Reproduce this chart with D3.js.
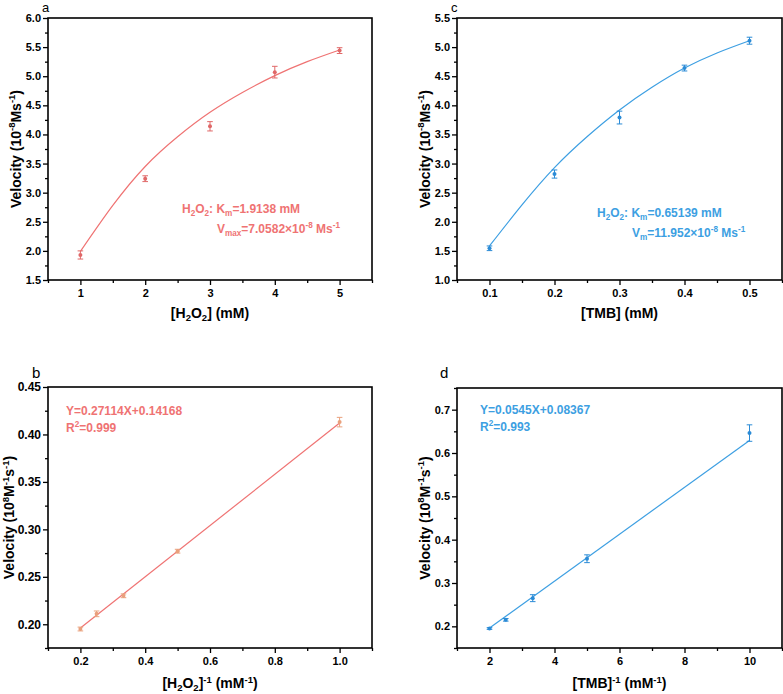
<!DOCTYPE html>
<html><head><meta charset="utf-8">
<script src="https://cdn.jsdelivr.net/npm/d3@7"></script>
<style>
html,body{margin:0;padding:0;background:#fff;}
svg{display:block;font-family:"Liberation Sans",Arial,sans-serif;}
</style></head>
<body><svg id="chart" width="783" height="694"></svg>
<script>
// ---------- DATA ----------
// Panel a: Michaelis-Menten, H2O2
const aX = [1, 2, 3, 4, 5];
const aY = [1.93, 3.24, 4.14, 5.07, 5.44];
const aErr = [0.07, 0.05, 0.08, 0.10, 0.05];
const aFitX = [1, 1.5, 2, 2.5, 3, 3.5, 4, 4.5, 5];
const aFitY = [1.99, 2.78, 3.45, 3.96, 4.38, 4.72, 5.01, 5.25, 5.45];
const aXTicks = [1, 2, 3, 4, 5];
const aYTicks = [1.5, 2.0, 2.5, 3.0, 3.5, 4.0, 4.5, 5.0, 5.5, 6.0];

// Panel c: Michaelis-Menten, TMB
const cX = [0.1, 0.2, 0.3, 0.4, 0.5];
const cY = [1.545, 2.82, 3.79, 4.64, 5.11];
const cErr = [0.04, 0.07, 0.11, 0.05, 0.06];
const cFitX = [0.1, 0.15, 0.2, 0.25, 0.3, 0.35, 0.4, 0.45, 0.5];
const cFitY = [1.585, 2.29, 2.93, 3.46, 3.92, 4.31, 4.64, 4.90, 5.11];
const cXTicks = [0.1, 0.2, 0.3, 0.4, 0.5];
const cYTicks = [1.0, 1.5, 2.0, 2.5, 3.0, 3.5, 4.0, 4.5, 5.0, 5.5];

// Panel b: Lineweaver-Burk, H2O2
const bX = [0.2, 0.25, 0.333, 0.5, 1.0];
const bY = [0.195, 0.211, 0.230, 0.277, 0.413];
const bErr = [0.002, 0.003, 0.002, 0.002, 0.005];
const bFitX = [0.2, 1.0];
const bFitY = [0.196, 0.412];
const bXTicks = [0.2, 0.4, 0.6, 0.8, 1.0];
const bYTicks = [0.20, 0.25, 0.30, 0.35, 0.40, 0.45];

// Panel d: Lineweaver-Burk, TMB
const dX = [2, 2.5, 3.33, 5, 10];
const dY = [0.195, 0.215, 0.265, 0.356, 0.646];
const dErr = [0.002, 0.003, 0.008, 0.009, 0.019];
const dFitX = [2, 10];
const dFitY = [0.196, 0.629];
const dXTicks = [2, 4, 6, 8, 10];
const dYTicks = [0.2, 0.3, 0.4, 0.5, 0.6, 0.7];

// ---------- DRAW ----------
const svg = d3.select("#chart");
const RED = "#ef7373", RED_MK = "#e06868", ORANGE_MK = "#e9a07c";
const BLUE = "#3d9fe2", BLUE_MK = "#2b8bd6";

function richText(g, x, y, parts, opts) {
  const t = g.append("text").attr("x", x).attr("y", y)
    .attr("font-size", opts.size).attr("font-weight", opts.weight || "bold")
    .attr("fill", opts.fill || "#000");
  if (opts.anchor) t.attr("text-anchor", opts.anchor);
  if (opts.transform) t.attr("transform", opts.transform);
  let shift = 0;
  parts.forEach(p => {
    let target = 0;
    if (p.sup) target = -opts.size * 0.38;
    if (p.sub) target = opts.size * 0.22;
    const s = t.append("tspan").text(p.t);
    s.attr("dy", target - shift);
    shift = target;
    if (p.sup || p.sub) s.attr("font-size", opts.size * 0.68);
  });
  return t;
}

function minorBetween(ticks, lo, hi) {
  const step = (ticks[1] - ticks[0]) / 2;
  const out = [];
  for (let i = -1; i < ticks.length; i++) {
    const v = ticks[0] + step * (2 * i + 1);
    if (v >= lo - 1e-9 && v <= hi + 1e-9) out.push(v);
  }
  return out;
}

function panel(cfg) {
  const g = svg.append("g").attr("transform", `translate(${cfg.left},${cfg.top})`);
  const x = d3.scaleLinear().domain(cfg.xDom).range([0, cfg.w]);
  const y = d3.scaleLinear().domain(cfg.yDom).range([cfg.h, 0]);

  const xa = g.append("g").attr("transform", `translate(0,${cfg.h})`)
    .call(d3.axisBottom(x).tickValues(cfg.xTicks).tickSize(5).tickSizeOuter(0).tickPadding(4).tickFormat(cfg.xFmt));
  const xm = g.append("g").attr("transform", `translate(0,${cfg.h})`)
    .call(d3.axisBottom(x).tickValues(minorBetween(cfg.xTicks, cfg.xDom[0], cfg.xDom[1])).tickSize(3).tickSizeOuter(0).tickFormat(""));
  const ya = g.append("g")
    .call(d3.axisLeft(y).tickValues(cfg.yTicks).tickSize(5).tickSizeOuter(0).tickPadding(2).tickFormat(cfg.yFmt));
  const ym = g.append("g")
    .call(d3.axisLeft(y).tickValues(minorBetween(cfg.yTicks, cfg.yDom[0], cfg.yDom[1])).tickSize(3).tickSizeOuter(0).tickFormat(""));
  [xa, xm, ya, ym].forEach(a => {
    a.select(".domain").remove();
    a.selectAll("line").attr("stroke", "#000").attr("stroke-width", 1.3);
    a.selectAll("text").attr("font-size", 11).attr("font-weight", "bold").attr("fill", "#000")
      .attr("font-family", '"Liberation Sans",Arial,sans-serif');
  });
  if (cfg.yLabelSize) ya.selectAll("text").attr("font-size", cfg.yLabelSize);

  g.append("rect").attr("x", 0).attr("y", 0).attr("width", cfg.w).attr("height", cfg.h)
    .attr("fill", "none").attr("stroke", "#000").attr("stroke-width", 1.6);

  const fit = cfg.fitX.map((v, i) => [v, cfg.fitY[i]]);
  g.append("path").datum(fit)
    .attr("d", d3.line().x(d => x(d[0])).y(d => y(d[1])).curve(d3.curveNatural))
    .attr("fill", "none").attr("stroke", cfg.lineColor).attr("stroke-width", 1.2);

  const pts = cfg.px.map((v, i) => ({x: v, y: cfg.py[i], e: cfg.pe[i]}));
  const eb = g.append("g").attr("stroke", cfg.mkColor).attr("stroke-width", 1);
  pts.forEach(p => {
    const x0 = x(p.x), y1 = y(p.y + p.e), y2 = y(p.y - p.e);
    eb.append("line").attr("x1", x0).attr("x2", x0).attr("y1", y1).attr("y2", y2);
    eb.append("line").attr("x1", x0 - 2.8).attr("x2", x0 + 2.8).attr("y1", y1).attr("y2", y1);
    eb.append("line").attr("x1", x0 - 2.8).attr("x2", x0 + 2.8).attr("y1", y2).attr("y2", y2);
  });
  g.selectAll("circle.pt").data(pts).join("circle").attr("class", "pt")
    .attr("cx", d => x(d.x)).attr("cy", d => y(d.y)).attr("r", 2)
    .attr("fill", cfg.mkColor);

  svg.append("text").attr("x", cfg.letterX).attr("y", cfg.letterY).attr("font-size", cfg.letterSize || 15)
    .attr("fill", "#000").text(cfg.letter);

  richText(svg, cfg.left + cfg.w / 2, cfg.xTitleY, cfg.xTitle, {size: 14, anchor: "middle"});
  const yc = cfg.top + cfg.h / 2;
  richText(svg, 0, 0, cfg.yTitle, {size: 14, anchor: "middle",
    transform: `translate(${cfg.yTitleX},${yc}) rotate(-90)`});

  cfg.notes.forEach(n => richText(svg, n.x, n.y, n.parts, {size: 12, fill: cfg.textColor}));
}

const f1 = d3.format(".1f"), f2 = d3.format(".2f"), f0 = d3.format("d");

const velA = [{t: "Velocity (10"}, {t: "-8", sup: true}, {t: "Ms"}, {t: "-1", sup: true}, {t: ")"}];
const velB = [{t: "Velocity (10"}, {t: "8", sup: true}, {t: "M"}, {t: "-1", sup: true}, {t: "s"}, {t: "-1", sup: true}, {t: ")"}];

panel({
  left: 48, top: 18, w: 324, h: 262, xDom: [0.5, 5.5], yDom: [1.5, 6.0],
  xTicks: aXTicks, yTicks: aYTicks, xFmt: f0, yFmt: f1,
  fitX: aFitX, fitY: aFitY, px: aX, py: aY, pe: aErr,
  lineColor: RED, mkColor: RED_MK, textColor: RED,
  letter: "a", letterX: 42, letterY: 12, letterSize: 13,
  xTitle: [{t: "[H"}, {t: "2", sub: true}, {t: "O"}, {t: "2", sub: true}, {t: "] (mM)"}], xTitleY: 318,
  yTitle: velA, yTitleX: 20.5,
  notes: [
    {x: 182, y: 213, parts: [{t: "H"}, {t: "2", sub: true}, {t: "O"}, {t: "2", sub: true}, {t: ": K"}, {t: "m", sub: true}, {t: "=1.9138 mM"}]},
    {x: 217, y: 233, parts: [{t: "V"}, {t: "max", sub: true}, {t: "=7.0582×10"}, {t: "-8", sup: true}, {t: " Ms"}, {t: "-1", sup: true}]}
  ]
});

panel({
  left: 457, top: 18, w: 325, h: 262, xDom: [0.05, 0.55], yDom: [1.0, 5.5],
  xTicks: cXTicks, yTicks: cYTicks, xFmt: f1, yFmt: f1,
  fitX: cFitX, fitY: cFitY, px: cX, py: cY, pe: cErr,
  lineColor: BLUE, mkColor: BLUE_MK, textColor: BLUE,
  letter: "c", letterX: 451, letterY: 12, letterSize: 13,
  xTitle: [{t: "[TMB] (mM)"}], xTitleY: 318,
  yTitle: velA, yTitleX: 429.5,
  notes: [
    {x: 597, y: 217, parts: [{t: "H"}, {t: "2", sub: true}, {t: "O"}, {t: "2", sub: true}, {t: ": K"}, {t: "m", sub: true}, {t: "=0.65139 mM"}]},
    {x: 632, y: 237, parts: [{t: "V"}, {t: "m", sub: true}, {t: "=11.952×10"}, {t: "-8", sup: true}, {t: " Ms"}, {t: "-1", sup: true}]}
  ]
});

panel({
  left: 48, top: 387, w: 324, h: 261, xDom: [0.1, 1.1], yDom: [0.175, 0.45],
  xTicks: bXTicks, yTicks: bYTicks, xFmt: f1, yFmt: f2, yLabelSize: 12,
  fitX: bFitX, fitY: bFitY, px: bX, py: bY, pe: bErr,
  lineColor: RED, mkColor: ORANGE_MK, textColor: RED,
  letter: "b", letterX: 32, letterY: 378,
  xTitle: [{t: "[H"}, {t: "2", sub: true}, {t: "O"}, {t: "2", sub: true}, {t: "]"}, {t: "-1", sup: true}, {t: " (mM"}, {t: "-1", sup: true}, {t: ")"}], xTitleY: 688,
  yTitle: velB, yTitleX: 14,
  notes: [
    {x: 66, y: 415, parts: [{t: "Y=0.27114X+0.14168"}]},
    {x: 66, y: 432, parts: [{t: "R"}, {t: "2", sup: true}, {t: "=0.999"}]}
  ]
});

panel({
  left: 457, top: 388, w: 325, h: 260, xDom: [1, 11], yDom: [0.15, 0.75],
  xTicks: dXTicks, yTicks: dYTicks, xFmt: f0, yFmt: f1,
  fitX: dFitX, fitY: dFitY, px: dX, py: dY, pe: dErr,
  lineColor: BLUE, mkColor: BLUE_MK, textColor: BLUE,
  letter: "d", letterX: 440, letterY: 378,
  xTitle: [{t: "[TMB]"}, {t: "-1", sup: true}, {t: " (mM"}, {t: "-1", sup: true}, {t: ")"}], xTitleY: 688,
  yTitle: velB, yTitleX: 429.5,
  notes: [
    {x: 480, y: 414, parts: [{t: "Y=0.0545X+0.08367"}]},
    {x: 480, y: 431, parts: [{t: "R"}, {t: "2", sup: true}, {t: "=0.993"}]}
  ]
});
</script>
</body></html>
